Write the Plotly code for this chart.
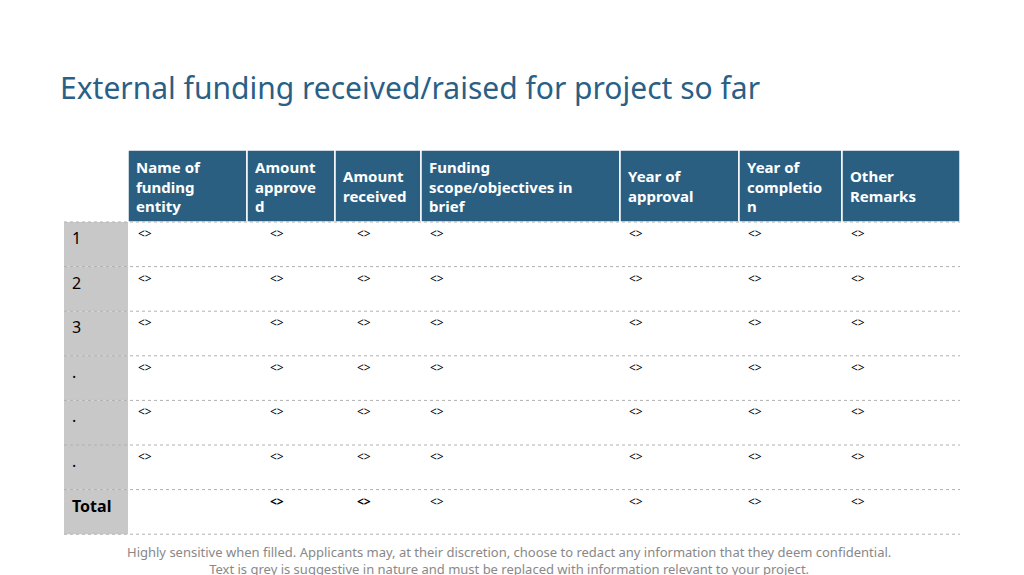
import plotly.graph_objects as go

title = "External funding received/raised for project so far"
headers = ["Name of<br>funding<br>entity", "Amount<br>approve<br>d", "Amount<br>received",
           "Funding<br>scope/objectives in<br>brief", "Year of<br>approval", "Year of<br>completio<br>n", "Other<br>Remarks"]
row_labels = ["1", "2", "3", ".", ".", ".", "<b>Total</b>"]
cells = [["&lt;&gt;"] * 7 for _ in range(6)] + [["", "<b>&lt;&gt;</b>", "<b>&lt;&gt;</b>", "&lt;&gt;", "&lt;&gt;", "&lt;&gt;", "&lt;&gt;"]]
footnote = ("Highly sensitive when filled. Applicants may, at their discretion, choose to redact any information that they deem confidential.<br>"
            "Text is grey is suggestive in nature and must be replaced with information relevant to your project.")

OFF = 8  # page body margin compensation
col_edges = [128, 247, 335, 421, 620, 739, 842, 960]
text_off = [8, 21, 20, 7, 7, 7, 7]
label_x0 = 64
head_top, head_bot = 150, 222
row_h = 44.6

fig = go.Figure()
shapes, ann = [], []
FONT = "Noto Sans"
X = lambda v: v - OFF
Y = lambda v: v - OFF
for i, h in enumerate(headers):
    x0, x1 = col_edges[i], col_edges[i + 1]
    shapes.append(dict(type="rect", x0=X(x0), x1=X(x1), y0=Y(head_top), y1=Y(head_bot),
                       fillcolor="#2b5f82", line=dict(color="white", width=1.5), layer="below"))
    ann.append(dict(x=X(x0 + 6), y=Y((head_top + head_bot) / 2), text="<b>" + h + "</b>", showarrow=False,
                    xanchor="left", yanchor="middle", align="left",
                    font=dict(family=FONT, size=15, color="white")))
for r, lab in enumerate(row_labels):
    y0 = head_bot + r * row_h
    y1 = y0 + row_h
    shapes.append(dict(type="rect", x0=X(label_x0), x1=X(col_edges[0]), y0=Y(y0), y1=Y(y1),
                       fillcolor="#c8c8c8", line=dict(width=0), layer="below"))
    shapes.append(dict(type="line", x0=X(label_x0), x1=X(col_edges[-1]), y0=Y(y1), y1=Y(y1),
                       line=dict(color="#b0b0b0", width=1, dash="dot")))
    ann.append(dict(x=X(label_x0 + 6), y=Y(y0 + 16), text=lab, showarrow=False, xanchor="left",
                    yanchor="middle", font=dict(family=FONT, size=16, color="black")))
    for c, v in enumerate(cells[r]):
        if v:
            ann.append(dict(x=X(col_edges[c] + text_off[c]), y=Y(y0 + 1), text=v, showarrow=False,
                            xanchor="left", yanchor="top", font=dict(family=FONT, size=12, color="black")))
shapes.append(dict(type="line", x0=X(label_x0), x1=X(col_edges[-1]), y0=Y(head_bot), y1=Y(head_bot),
                   line=dict(color="#b0b0b0", width=1, dash="dot")))

ann.append(dict(x=X(58), y=Y(87), text=title, showarrow=False, xanchor="left", yanchor="middle",
                font=dict(family=FONT, size=30, color="#2a5f86")))
ann.append(dict(x=X(509), y=Y(560), text=footnote, showarrow=False, xanchor="center", yanchor="middle",
                align="center", font=dict(family=FONT, size=13, color="#888888")))

fig.update_layout(width=1024, height=575, margin=dict(l=0, r=0, t=0, b=0),
                  paper_bgcolor="white", plot_bgcolor="white", shapes=shapes, annotations=ann,
                  xaxis=dict(range=[0, 1024], visible=False, fixedrange=True),
                  yaxis=dict(range=[575, 0], visible=False, fixedrange=True), showlegend=False)
fig.write_html("out.html")
